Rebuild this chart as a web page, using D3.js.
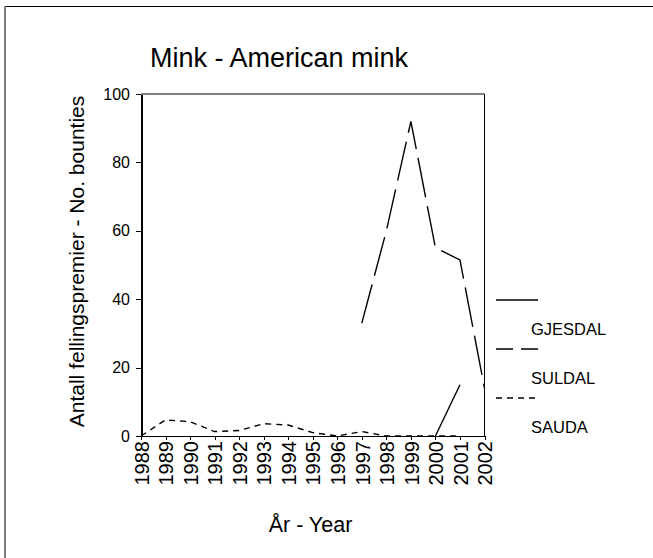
<!DOCTYPE html>
<meta charset="utf-8">
<head>
    <title>Mink - American mink</title>
</head>
<style>
  body {
    margin: 0;
    background: #fff;
  }
  svg {
    display: block;
    font-family: "Liberation Sans", Arial, sans-serif;
  }
  .axis path,
  .axis line {
    fill: none;
    stroke: #000;
    shape-rendering: crispEdges;
  }
  .yaxis text { font-size: 16px; }
  .xaxis text { font-size: 20px; }
  .series {
    fill: none;
    stroke: #000;
    stroke-width: 1.4px;
  }
</style>
<body>
<script src="https://cdnjs.cloudflare.com/ajax/libs/d3/7.8.5/d3.min.js"></script>
<script>
// values (null = no value that year)
var years   = [1988, 1989, 1990, 1991, 1992, 1993, 1994, 1995, 1996, 1997, 1998, 1999, 2000, 2001, 2002];
var gjesdal = [null, null, null, null, null, null, null, null, null, null, null, null, 0, 15, null];
var suldal  = [null, null, null, null, null, null, null, null, null, 33, 60, 92, 55, 51.5, 14];
var sauda   = [0, 4.7, 4.2, 1.3, 1.6, 3.6, 3.2, 1, 0, 1.3, 0, 0, 0, 0, null];
var yTicks  = [0, 20, 40, 60, 80, 100];

var series = [
  {name: "GJESDAL", values: gjesdal, dash: null},
  {name: "SULDAL",  values: suldal,  dash: "40,9"},
  {name: "SAUDA",   values: sauda,   dash: "6,5"}
];

var width = 653, height = 558;
var plot = {left: 141, right: 484.5, top: 94, bottom: 436};

var svg = d3.select("body").append("svg")
    .attr("width", width)
    .attr("height", height);

// outer frame (only left and top edges show in the picture)
svg.append("line")
    .attr("x1", 5).attr("x2", 5).attr("y1", 6).attr("y2", height)
    .attr("stroke", "#808080").attr("stroke-width", 2);
svg.append("line")
    .attr("x1", 6).attr("x2", width).attr("y1", 6.5).attr("y2", 6.5)
    .attr("stroke", "#000").attr("stroke-width", 1);

var x = d3.scaleLinear().domain([1988, 2002]).range([plot.left, plot.right]);
var y = d3.scaleLinear().domain([0, 100]).range([plot.bottom, plot.top]);

// title
svg.append("text")
    .attr("x", 279)
    .attr("y", 67)
    .style("text-anchor", "middle")
    .style("font-size", "27px")
    .text("Mink - American mink");

// box top and right
svg.append("line")
    .attr("x1", plot.left).attr("x2", plot.right)
    .attr("y1", plot.top).attr("y2", plot.top)
    .attr("stroke", "#000");
svg.append("line")
    .attr("x1", plot.right).attr("x2", plot.right)
    .attr("y1", plot.top).attr("y2", plot.bottom)
    .attr("stroke", "#000");

// y axis
svg.append("g")
    .attr("class", "axis yaxis")
    .attr("transform", "translate(" + plot.left + ",0)")
    .call(d3.axisLeft(y).tickValues(yTicks).tickSize(5).tickSizeOuter(0).tickPadding(6))
    .select(".domain").attr("stroke-width", 2);

// x axis
var xg = svg.append("g")
    .attr("class", "axis xaxis")
    .attr("transform", "translate(0," + plot.bottom + ")")
    .call(d3.axisBottom(x).tickValues(years).tickFormat(d3.format("d")).tickSize(4).tickSizeOuter(0));
xg.select(".domain").attr("stroke-width", 1.5);
xg.selectAll("text")
    .attr("transform", "rotate(-90)")
    .attr("x", -5)
    .attr("y", 0)
    .attr("dy", "0.36em")
    .style("text-anchor", "end");

// axis titles
svg.append("text")
    .attr("transform", "translate(84,261.5) rotate(-90)")
    .style("text-anchor", "middle")
    .style("font-size", "21px")
    .text("Antall fellingspremier - No. bounties");

svg.append("text")
    .attr("x", 310.5)
    .attr("y", 531.5)
    .style("text-anchor", "middle")
    .style("font-size", "21.5px")
    .text("År - Year");

// lines
var line = d3.line()
    .defined(function(d) { return d[1] != null; })
    .x(function(d) { return x(d[0]); })
    .y(function(d) { return y(d[1]); });

svg.selectAll(".series")
    .data(series)
  .enter().append("path")
    .attr("class", "series")
    .attr("stroke-dasharray", function(s) { return s.dash; })
    .attr("d", function(s) {
      return line(years.map(function(yr, i) { return [yr, s.values[i]]; }));
    });

// legend
var legend = svg.selectAll(".legend")
    .data(series)
  .enter().append("g")
    .attr("class", "legend")
    .attr("transform", function(s, i) { return "translate(0," + (i * 49) + ")"; });

legend.append("line")
    .attr("x1", 496).attr("x2", 538)
    .attr("y1", 300).attr("y2", 300)
    .attr("stroke", "#000")
    .attr("stroke-width", 1.4)
    .attr("stroke-dasharray", function(s) { return s.name === "SULDAL" ? "17,8" : s.dash; });

legend.append("text")
    .attr("x", 531)
    .attr("y", 335)
    .style("font-size", "16.5px")
    .text(function(s) { return s.name; });
</script>
</body>
